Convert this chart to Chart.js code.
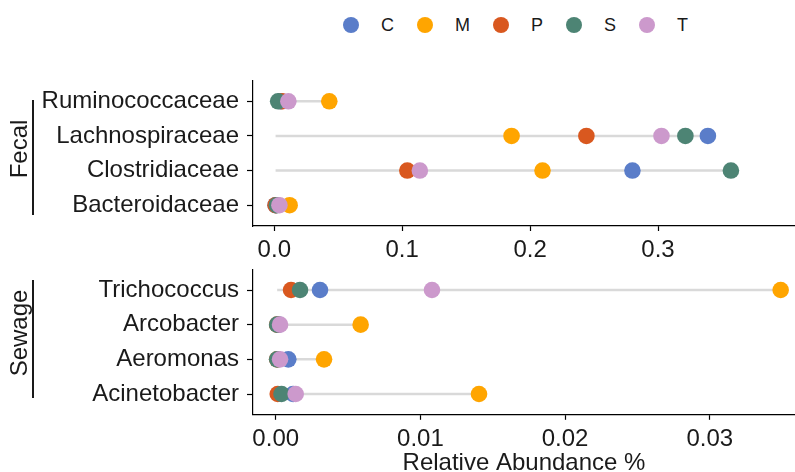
<!DOCTYPE html>
<html>
<head>
<meta charset="utf-8">
<script src="https://cdn.jsdelivr.net/npm/chart.js@4.4.1/dist/chart.umd.min.js"></script>
<style>
  html, body { margin: 0; padding: 0; background: #fff; overflow: hidden; }
  body { width: 795px; height: 472px; position: relative; font-family: "Liberation Sans", Arial, sans-serif; }
  #c1 { position: absolute; left: 0; top: 0; }
  #c2 { position: absolute; left: 0; top: 250px; }
  #legend { position: absolute; left: 343px; top: 17px; display: flex; align-items: center; }
  .item { display: flex; align-items: center; margin-right: 23px; }
  .dot { width: 16px; height: 16px; border-radius: 50%; }
  .lab { margin-left: 22px; font-size: 18px; line-height: 16px; color: #1a1a1a; }
  .strip { position: absolute; font-size: 24px; color: #1a1a1a; white-space: nowrap; transform: rotate(-90deg); transform-origin: center center; }
  .sline { position: absolute; width: 1.5px; background: #1a1a1a; }
</style>
</head>
<body>
<div id="legend"></div>
<canvas id="c1" width="795" height="280"></canvas>
<canvas id="c2" width="795" height="230"></canvas>
<div class="strip" id="s1">Fecal</div>
<div class="sline" style="left:32px; top:100px; height:115px;"></div>
<div class="strip" id="s2">Sewage</div>
<div class="sline" style="left:32px; top:280px; height:118px;"></div>
<script>
// ---- data ----
const seriesNames = ['C', 'M', 'P', 'S', 'T'];
const seriesColors = ['#5A7DC9', '#FFA500', '#D9581F', '#4D8474', '#CC99CC'];

const fecalCategories = ['Ruminococcaceae', 'Lachnospiraceae', 'Clostridiaceae', 'Bacteroidaceae'];
const fecalC = [0.005, 0.339, 0.280, 0.001];
const fecalM = [0.043, 0.1855, 0.2097, 0.012];
const fecalP = [0.006, 0.244, 0.104, 0.001];
const fecalS = [0.003, 0.3214, 0.357, 0.002];
const fecalT = [0.011, 0.3027, 0.1138, 0.004];
const fecalTicks = [0.0, 0.1, 0.2, 0.3];
const fecalTickLabels = ['0.0', '0.1', '0.2', '0.3'];

const sewageCategories = ['Trichococcus', 'Arcobacter', 'Aeromonas', 'Acinetobacter'];
const sewageC = [0.00306, 0.0002, 0.00087, 0.0012];
const sewageM = [0.0349, 0.00587, 0.00334, 0.01405];
const sewageP = [0.00106, 0.0001, 0.0001, 0.00014];
const sewageS = [0.00168, 0.0001, 0.0001, 0.0004];
const sewageT = [0.0108, 0.0003, 0.0003, 0.00138];
const sewageTicks = [0.00, 0.01, 0.02, 0.03];
const sewageTickLabels = ['0.00', '0.01', '0.02', '0.03'];

const xTitle = 'Relative Abundance %';
const panelNames = ['Fecal', 'Sewage'];

// ---- legend ----
const legend = document.getElementById('legend');
seriesNames.forEach((n, i) => {
  const it = document.createElement('div'); it.className = 'item';
  const d = document.createElement('div'); d.className = 'dot'; d.style.background = seriesColors[i];
  const l = document.createElement('div'); l.className = 'lab'; l.textContent = n;
  it.appendChild(d); it.appendChild(l); legend.appendChild(it);
});

// strip labels
function placeStrip(id, text, cx, cy) {
  const el = document.getElementById(id);
  el.textContent = text;
  const w = el.offsetWidth, h = el.offsetHeight;
  el.style.left = (cx - w / 2) + 'px';
  el.style.top = (cy - h / 2) + 'px';
}
placeStrip('s1', panelNames[0], 19, 149);
placeStrip('s2', panelNames[1], 19, 333);

const FONT = "'Liberation Sans', Arial, sans-serif";

function makePanel(canvasId, cats, series, ticks, tickLabels, xmin, xmax, padTop, xAxisH, showTitle) {
  const all = series.flat();
  const segStart = Math.min(...all);
  const datasets = [];
  cats.forEach((c, i) => {
    const mx = Math.max(...series.map(s => s[i]));
    datasets.push({
      type: 'line',
      data: [{x: segStart, y: i + 1}, {x: mx, y: i + 1}],
      borderColor: '#D9D9D9', borderWidth: 2.5, pointRadius: 0, pointHoverRadius: 0,
      order: 10, clip: false
    });
  });
  series.forEach((s, k) => {
    datasets.push({
      type: 'scatter',
      label: seriesNames[k],
      data: s.map((v, i) => ({x: v, y: i + 1})),
      backgroundColor: seriesColors[k],
      borderColor: seriesColors[k],
      borderWidth: 0,
      pointRadius: 8.3, pointHoverRadius: 8.3,
      order: 5 - k, clip: false
    });
  });
  return new Chart(document.getElementById(canvasId), {
    type: 'scatter',
    data: { datasets },
    options: {
      responsive: false, animation: false, devicePixelRatio: 1,
      layout: { autoPadding: false, padding: { top: padTop, left: 0, right: 0, bottom: 0 } },
      plugins: { legend: { display: false }, tooltip: { enabled: false } },
      scales: {
        x: {
          type: 'linear', min: xmin, max: xmax,
          afterBuildTicks: (sc) => { sc.ticks = ticks.map(v => ({ value: v })); },
          afterFit: (sc) => { sc.height = xAxisH; sc.paddingLeft = 0; sc.paddingRight = 0; },
          ticks: {
            callback: (v) => { const j = ticks.findIndex(t => Math.abs(t - v) < 1e-9); return j >= 0 ? tickLabels[j] : ''; },
            font: { family: FONT, size: 24 }, color: '#1a1a1a', padding: 5, maxRotation: 0
          },
          grid: { display: true, drawOnChartArea: false, tickLength: 5, tickColor: '#000', tickWidth: 1.2 },
          border: { display: true, color: '#000', width: 1.2 },
          title: { display: showTitle, text: xTitle, font: { family: FONT, size: 24 }, color: '#1a1a1a', padding: { top: 0, bottom: 2 } }
        },
        y: {
          type: 'linear', reverse: true, min: 0.4, max: 4.6,
          afterBuildTicks: (sc) => { sc.ticks = cats.map((c, i) => ({ value: i + 1 })); },
          afterFit: (sc) => { sc.width = 253; sc.paddingTop = 0; sc.paddingBottom = 0; },
          ticks: {
            callback: (v) => cats[Math.round(v) - 1] || '',
            font: { family: FONT, size: 24 }, color: '#1a1a1a', padding: 8
          },
          grid: { display: true, drawOnChartArea: false, tickLength: 6, tickColor: '#000', tickWidth: 1.2 },
          border: { display: true, color: '#000', width: 1.2 }
        }
      }
    }
  });
}

makePanel('c1', fecalCategories, [fecalC, fecalM, fecalP, fecalS, fecalT], fecalTicks, fecalTickLabels,
  -0.01665, 0.4071, 80.5, 54, false);
makePanel('c2', sewageCategories, [sewageC, sewageM, sewageP, sewageS, sewageT], sewageTicks, sewageTickLabels,
  -0.00157, 0.03589, 19.2, 65.2, true);
</script>
</body>
</html>
